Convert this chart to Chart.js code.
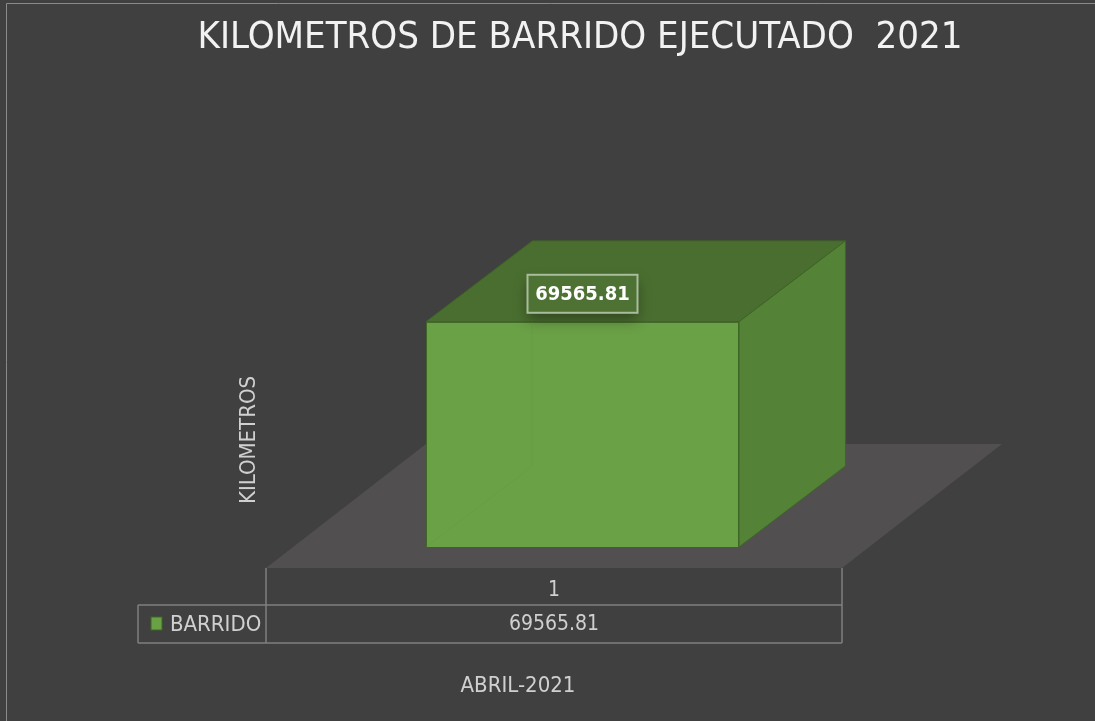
<!DOCTYPE html>
<html>
<head>
<meta charset="utf-8">
<script src="https://cdn.jsdelivr.net/npm/chart.js@4/dist/chart.umd.min.js"></script>
<style>
html, body { margin: 0; padding: 0; background: #404040; }
</style>
</head>
<body>
<canvas id="barrido" width="1095" height="721"></canvas>
<script>
// datos del grafico
var categorias = ["1"];
var serieNombre = "BARRIDO";
var valores = [69565.81];
var titulo = "KILOMETROS DE BARRIDO EJECUTADO  2021";
var tituloEjeX = "ABRIL-2021";
var tituloEjeY = "KILOMETROS";

var FUENTE = "'Liberation Sans Narrow', 'DejaVu Sans Condensed', 'Liberation Sans', sans-serif";
var GRIS_TEXTO = "#d0d0d0";

// pinta la caja 3d, el piso y la tabla de datos
const cubo3d = {
    id: "cubo3d",
    beforeDraw(chart) {
        const ctx = chart.ctx;
        ctx.save();
        ctx.fillStyle = "#404040";
        ctx.fillRect(0, 0, chart.width, chart.height);
        // borde fino arriba / izquierda
        ctx.strokeStyle = "#8a8a8a";
        ctx.lineWidth = 1;
        ctx.beginPath();
        ctx.moveTo(6.5, chart.height);
        ctx.lineTo(6.5, 3.5);
        ctx.lineTo(chart.width, 3.5);
        ctx.stroke();
        ctx.restore();
    },
    beforeDatasetsDraw(chart) {
        const ctx = chart.ctx;
        const a = chart.chartArea;
        // piso
        const fy = a.bottom + 21, fl = a.left - 28, fr = a.right - 29;
        ctx.save();
        ctx.fillStyle = "#524f51";
        ctx.beginPath();
        ctx.moveTo(fl, fy);
        ctx.lineTo(fr, fy);
        ctx.lineTo(fr + 160, fy - 124);
        ctx.lineTo(fl + 160, fy - 124);
        ctx.closePath();
        ctx.fill();
        ctx.restore();
    },
    afterDatasetsDraw(chart) {
        const ctx = chart.ctx;
        const a = chart.chartArea;
        const bar = chart.getDatasetMeta(0).data[0];
        const left = bar.x - bar.width / 2, right = bar.x + bar.width / 2;
        const top = bar.y, base = bar.base;
        const dx = bar.width * 0.34, dy = -dx * 0.76;

        ctx.save();
        ctx.lineWidth = 1;
        ctx.strokeStyle = "#3e6625";
        // cara superior
        ctx.fillStyle = "#4a6e30";
        ctx.beginPath();
        ctx.moveTo(left, top);
        ctx.lineTo(right, top);
        ctx.lineTo(right + dx, top + dy);
        ctx.lineTo(left + dx, top + dy);
        ctx.closePath();
        ctx.fill();
        ctx.stroke();
        // cara derecha
        ctx.fillStyle = "#548236";
        ctx.beginPath();
        ctx.moveTo(right, top);
        ctx.lineTo(right + dx, top + dy);
        ctx.lineTo(right + dx, base + dy);
        ctx.lineTo(right, base);
        ctx.closePath();
        ctx.fill();
        ctx.stroke();
        // arista trasera que se ve a traves de la cara frontal
        ctx.strokeStyle = "rgba(90,150,60,0.22)";
        ctx.beginPath();
        ctx.moveTo(left, base);
        ctx.lineTo(left + dx, base + dy);
        ctx.lineTo(left + dx, top);
        ctx.stroke();

        // etiqueta del valor
        const txt = valores[0].toFixed(2);
        ctx.font = "bold 20px " + FUENTE;
        const bw = 110, bh = 38;
        const cx = bar.x, cy = top - 28;
        ctx.save();
        ctx.shadowColor = "rgba(0,0,0,0.35)";
        ctx.shadowBlur = 14;
        ctx.shadowOffsetY = 7;
        ctx.fillStyle = "#4d7233";
        ctx.fillRect(cx - bw / 2, cy - bh / 2, bw, bh);
        ctx.restore();
        ctx.strokeStyle = "#a9bc9c";
        ctx.lineWidth = 2;
        ctx.strokeRect(cx - bw / 2, cy - bh / 2, bw, bh);
        ctx.fillStyle = "#ffffff";
        ctx.textAlign = "center";
        ctx.textBaseline = "middle";
        ctx.fillText(txt, cx, cy + 1);

        // tabla de datos
        const fy = a.bottom + 21, fl = a.left - 28, fr = a.right - 29;
        const r1 = fy + 37, r2 = fy + 75, legL = fl - 128;
        ctx.strokeStyle = "#7f7f7f";
        ctx.lineWidth = 1.5;
        ctx.beginPath();
        ctx.moveTo(fl, fy); ctx.lineTo(fl, r2);
        ctx.moveTo(fr, fy); ctx.lineTo(fr, r2);
        ctx.moveTo(legL, r1); ctx.lineTo(fr, r1);
        ctx.moveTo(legL, r2); ctx.lineTo(fr, r2);
        ctx.moveTo(legL, r1); ctx.lineTo(legL, r2);
        ctx.stroke();

        ctx.fillStyle = GRIS_TEXTO;
        ctx.font = "21px " + FUENTE;
        ctx.textAlign = "center";
        ctx.fillText(categorias[0], (fl + fr) / 2, (fy + r1) / 2 + 4);
        ctx.fillText(txt, (fl + fr) / 2, (r1 + r2) / 2 + 1);
        ctx.textAlign = "left";
        ctx.font = "22px " + FUENTE;
        ctx.fillText(serieNombre, legL + 32, (r1 + r2) / 2 + 1);
        // cuadrito de leyenda
        ctx.fillStyle = "#6aa046";
        ctx.fillRect(legL + 13, (r1 + r2) / 2 - 7, 11, 13);
        ctx.strokeStyle = "#3e6625";
        ctx.lineWidth = 1;
        ctx.strokeRect(legL + 13, (r1 + r2) / 2 - 7, 11, 13);

        // titulos de ejes
        ctx.fillStyle = GRIS_TEXTO;
        ctx.font = "22px " + FUENTE;
        ctx.textAlign = "center";
        ctx.fillText(tituloEjeX, 518, r2 + 43);
        ctx.save();
        ctx.translate(249, 440);
        ctx.rotate(-Math.PI / 2);
        ctx.fillText(tituloEjeY, 0, 0);
        ctx.restore();

        // titulo
        ctx.fillStyle = "#f2f2f2";
        ctx.font = "38px " + FUENTE;
        ctx.fillText(titulo, 580, 38);
        ctx.restore();
    }
};

new Chart("barrido", {
    type: "bar",
    data: {
        labels: categorias,
        datasets: [{
            label: serieNombre,
            data: valores,
            backgroundColor: "#6aa046",
            borderColor: "#3e6625",
            borderWidth: 1,
            barPercentage: 0.5425,
            categoryPercentage: 1
        }]
    },
    options: {
        responsive: false,
        animation: false,
        layout: { padding: { top: 288, bottom: 174, left: 294, right: 224 } },
        scales: {
            x: { display: false },
            y: { display: false, min: 0, max: 80000 }
        },
        plugins: {
            legend: { display: false },
            tooltip: { enabled: false },
            title: { display: false }
        }
    },
    plugins: [cubo3d]
});
</script>
</body>
</html>
